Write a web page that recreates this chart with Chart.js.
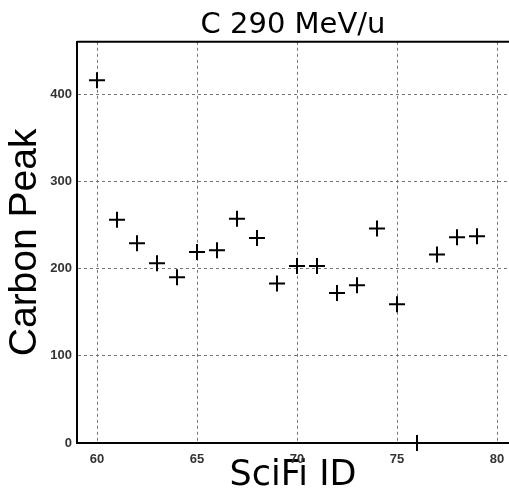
<!DOCTYPE html>
<html><head><meta charset="utf-8">
<script src="https://cdn.jsdelivr.net/npm/chart.js@4/dist/chart.umd.min.js"></script>
<style>html,body{margin:0;padding:0;background:#fff}#wrap{width:509px;height:491px}</style>
</head><body><div id="wrap"><canvas id="c" width="509" height="491"></canvas></div>
<script>
const scifiIds = [60,61,62,63,64,65,66,67,68,69,70,71,72,73,74,75,76,77,78,79];
const carbonPeak = [416,256,229,206,190,219,221,257,235,183,203,203,172,181,246,159,0,216,236,237];
const xTicks = [60,65,70,75,80];
const yTicks = [0,100,200,300,400];

const topBorder = {
  id:'topBorder',
  afterDraw(chart){
    const {ctx, chartArea:a} = chart;
    ctx.save(); ctx.strokeStyle='#000'; ctx.lineWidth=2;
    ctx.beginPath(); ctx.moveTo(a.left, a.top); ctx.lineTo(a.right, a.top); ctx.stroke();
    ctx.restore();
  }
};

new Chart(document.getElementById('c'), {
  type:'scatter',
  data:{datasets:[{
    data: scifiIds.map((x,i)=>({x, y:carbonPeak[i]})),
    pointStyle:'cross', pointRadius:8, pointHoverRadius:8,
    borderColor:'#000', backgroundColor:'#000', borderWidth:2, clip:false
  }]},
  options:{
    responsive:false, animation:false, devicePixelRatio:1,
    layout:{padding:0, autoPadding:false},
    plugins:{
      legend:{display:false}, tooltip:{enabled:false},
      title:{display:true, fullSize:false, text:'C 290 MeV/u', color:'#000',
        font:{family:'DejaVu Sans', size:29, weight:'normal', lineHeight:1.2}, padding:{top:8,bottom:-1}}
    },
    scales:{
      x:{type:'linear', min:59, max:80.6,
        afterBuildTicks:s=>{s.ticks = xTicks.map(v=>({value:v}));},
        afterFit:s=>{s.height=48; s.paddingLeft=0; s.paddingRight=0;},
        grid:{color:'#777', lineWidth:1, drawTicks:false},
        border:{display:true, color:'#000', width:2, dash:[3,3]},
        ticks:{color:'#333', padding:9, font:{family:'Liberation Sans', size:13, weight:'bold'}},
        title:{display:true, text:'SciFi ID', color:'#000',
          font:{family:'DejaVu Sans', size:35, lineHeight:1}, padding:{top:0,bottom:-2}}
      },
      y:{type:'linear', min:0, max:460,
        afterBuildTicks:s=>{s.ticks = yTicks.map(v=>({value:v}));},
        afterFit:s=>{s.width=77; s.paddingTop=0; s.paddingBottom=0;},
        grid:{color:'#777', lineWidth:1, drawTicks:false},
        border:{display:true, color:'#000', width:2, dash:[3,3]},
        ticks:{color:'#333', padding:5, font:{family:'Liberation Sans', size:13, weight:'bold'}},
        title:{display:true, text:'Carbon Peak', color:'#000',
          font:{family:'Liberation Sans', size:39, lineHeight:1}, padding:{top:6,bottom:0}}
      }
    }
  },
  plugins:[topBorder]
});
</script></body></html>
